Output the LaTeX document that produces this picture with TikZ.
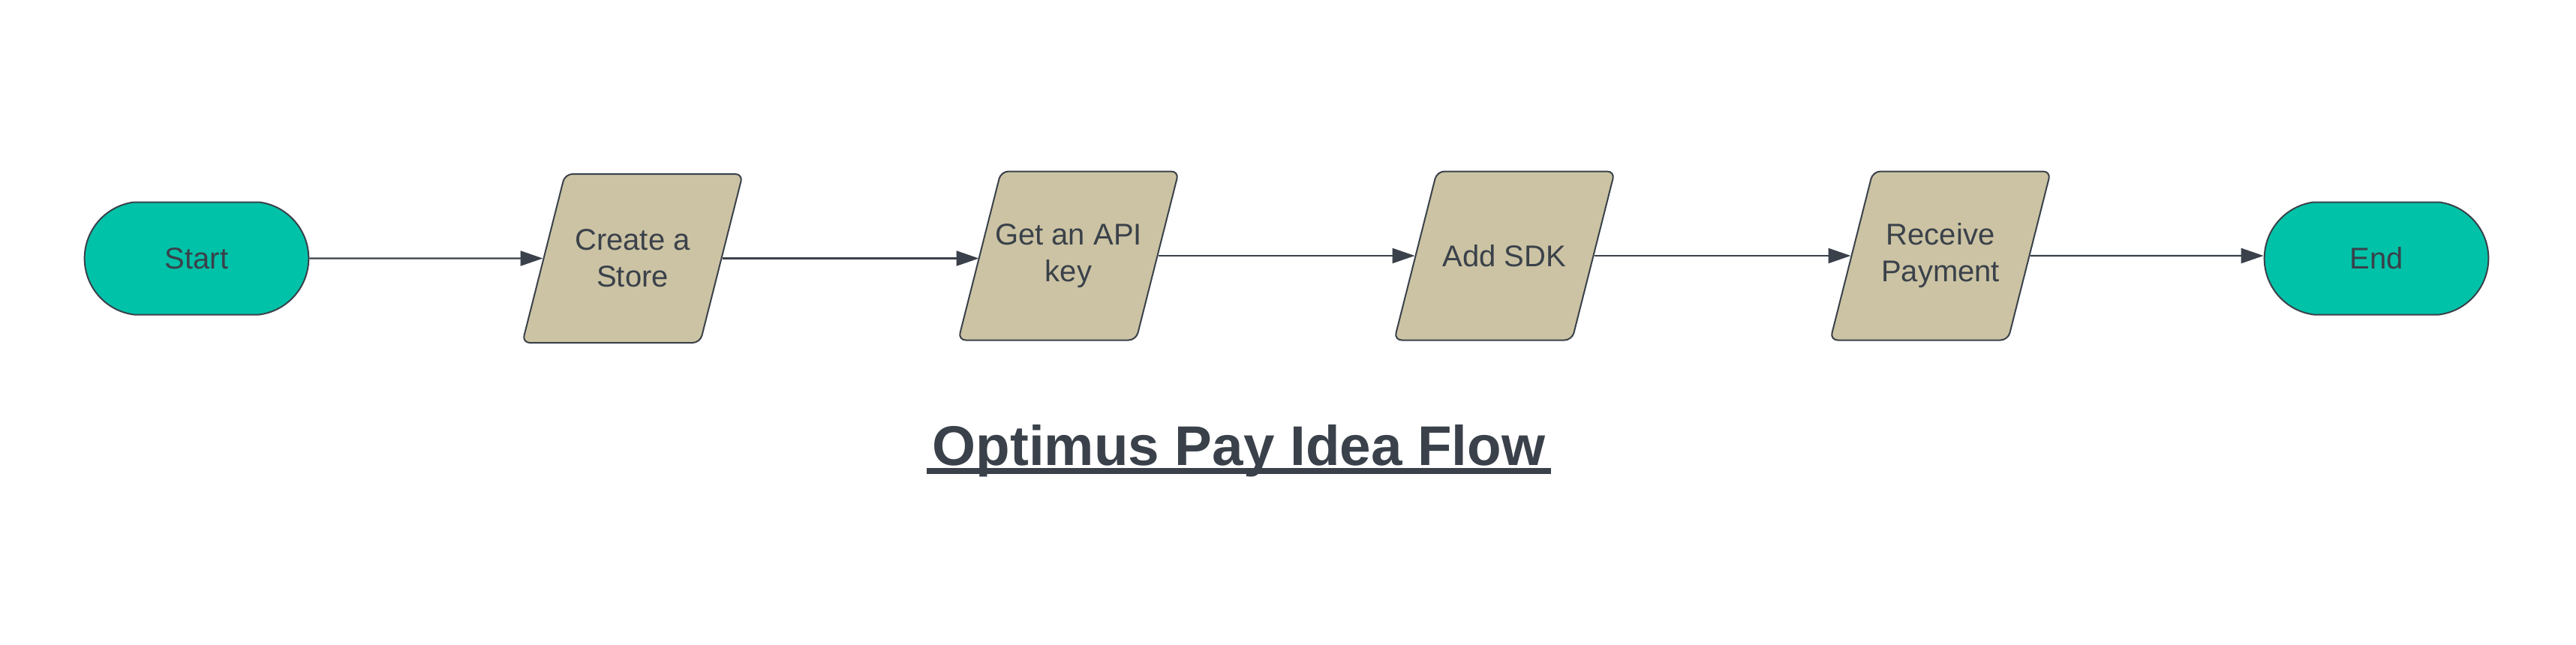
\documentclass[tikz,border=0pt]{standalone}
\usepackage{fontspec}
\setmainfont{Liberation Sans}
\usetikzlibrary{positioning}
\usetikzlibrary{shapes.geometric}
\usetikzlibrary{shapes.misc}
\usetikzlibrary{arrows.meta}

\definecolor{ink}{HTML}{3A414A}
\definecolor{termfill}{HTML}{00C2A8}
\definecolor{iofill}{HTML}{CBC3A3}

\begin{document}
\begin{tikzpicture}[
  node distance=290.5pt, on grid,
  term/.style={rounded rectangle, rounded rectangle arc length=165, draw=ink, line width=1pt,
    fill=termfill, minimum width=156pt, minimum height=75pt, text=ink,
    font=\fontsize{20}{24.5}\selectfont},
  io/.style={trapezium, trapezium left angle=75.8, trapezium right angle=104.2,
    rounded corners=5pt, draw=ink, line width=1pt, fill=iofill, inner sep=0pt, text=ink,
    font=\fontsize{20}{24.5}\selectfont,
    execute at begin node={\begin{minipage}[c][112.5pt][c]{90pt}\centering
      \leftskip=-15pt plus 1fil\rightskip=-15pt plus 1fil},
    execute at end node={\end{minipage}}},
  flow/.style={draw=ink, line width=1.15pt, -{Triangle[length=15pt,width=10pt]}}
]
\useasboundingbox (0,0) rectangle (1716.5pt,-429.5pt);
% Define nodes
\node[term] (start) at (131pt,-172.25pt) {Start};
\node[io, right=of start] (store) {Create a\\Store};
\node[io, right=of store, yshift=1.75pt] (api) {Get an API\\key};
\node[io, right=of api] (sdk) {Add SDK};
\node[io, right=of sdk] (pay) {Receive\\Payment};
\node[term, right=of pay, yshift=-1.75pt] (finish) {End};

% Title
\node[inner sep=0pt, anchor=base, text=ink, font=\fontsize{37.3}{44}\selectfont\bfseries]
  (title) at (825.5pt,-310pt) {Optimus Pay Idea Flow};
\draw[ink, line width=4pt] ([xshift=-3.5pt,yshift=-4pt]title.base west)
  -- ([xshift=3.5pt,yshift=-4pt]title.base east);

% Edges
\draw[flow] (start) -- (start -| store.west);
\draw[flow] (store) -- (store -| api.west);
\draw[flow] (api) -- (api -| sdk.west);
\draw[flow] (sdk) -- (sdk -| pay.west);
\draw[flow] (pay) -- (pay -| finish.west);
\end{tikzpicture}
\end{document}
